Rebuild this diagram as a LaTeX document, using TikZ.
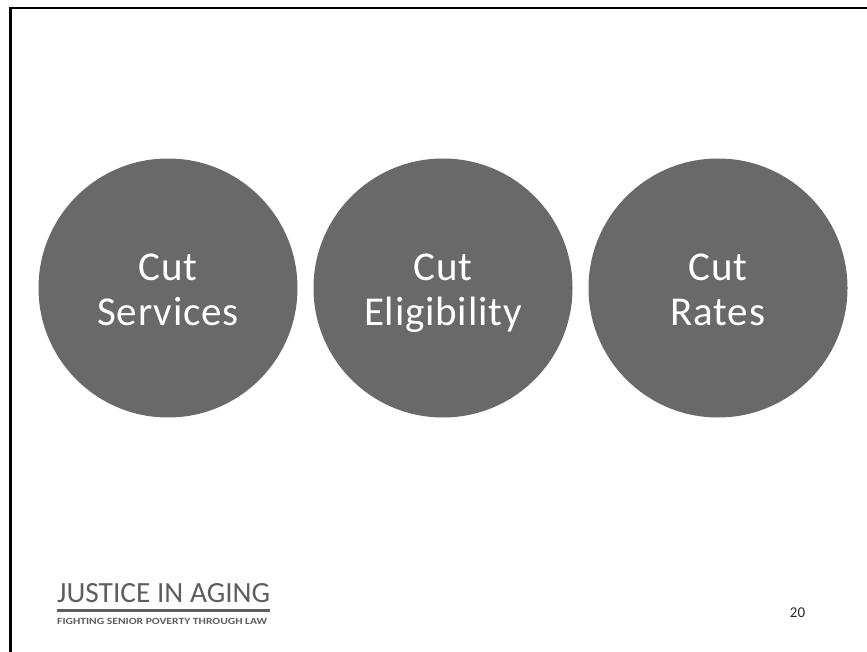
\documentclass[tikz,border=0pt]{standalone}
\usepackage{fontspec}
\setmainfont{Carlito}
\newfontfamily\circfont[LetterSpace=2]{Carlito}
\definecolor{circgray}{HTML}{696969}
\definecolor{logogray}{HTML}{5E5E5E}
\definecolor{numgray}{HTML}{262626}
\begin{document}
\begin{tikzpicture}[x=1pt,y=-1pt,
  bubble/.style={circle,fill=circgray,draw=none,minimum size=259pt,inner sep=0pt},
  bubbletext/.style={text=white,anchor=base,inner sep=0pt,font=\circfont\fontsize{41}{45}\selectfont},
  framestyle/.style={line width=2.7pt,black}]
\useasboundingbox (0,0) rectangle (867,652);
% frame
\coordinate (ftl) at (10.5,8);
\coordinate (ftr) at (867,8);
\coordinate (fbl) at (10.5,652);
\draw[framestyle] (ftr) -- (ftl) -- (fbl);
% circles
\node[bubble] (c1) at (168,288) {};
\node[bubble] (c2) at (443,288) {};
\node[bubble] (c3) at (718,288) {};
\node[bubbletext] (t1a) at (168,280) {Cut};
\node[bubbletext] (t1b) at (168,325) {Services};
\node[bubbletext] (t2a) at (443,280) {Cut};
\node[bubbletext] (t2b) at (443,325) {Eligibility};
\node[bubbletext] (t3a) at (718,280) {Cut};
\node[bubbletext] (t3b) at (718,325) {Rates};
% logo
\node[anchor=base west,inner sep=0pt,text=logogray] (logo) at (57,602)
  {\resizebox{213pt}{19pt}{\fontsize{30}{30}\selectfont JUSTICE IN AGING}};
\fill[logogray] (57,609) rectangle (270,612);
\node[anchor=base west,inner sep=0pt,text=logogray] (tag) at (57,624)
  {\resizebox{210pt}{6.2pt}{\bfseries\fontsize{9}{9}\selectfont FIGHTING SENIOR POVERTY THROUGH LAW}};
% page number
\node[anchor=base,inner sep=0pt,text=numgray,font=\fontsize{15}{15}\selectfont] (num) at (797.5,617) {20};
\end{tikzpicture}
\end{document}
